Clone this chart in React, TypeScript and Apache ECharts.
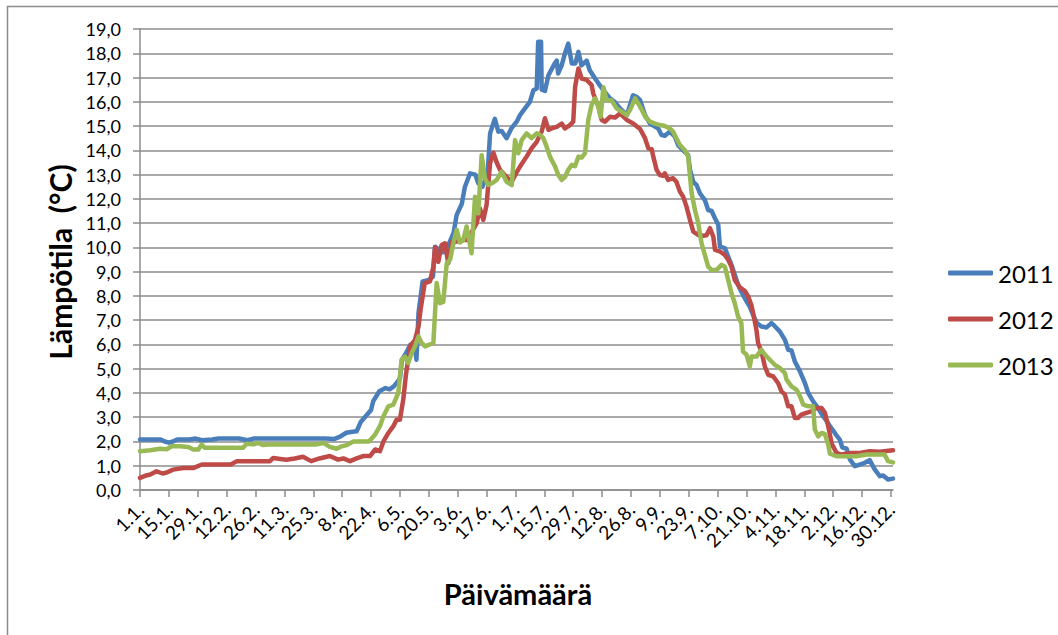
import React, { useEffect, useRef } from "react";
import * as echarts from "echarts";

// X-axis tick labels (one every 14 days, day index 0 = 1.1.)
const TICK_LABELS = [
  "1.1.", "15.1.", "29.1.", "12.2.", "26.2.", "11.3.", "25.3.", "8.4.", "22.4.",
  "6.5.", "20.5.", "3.6.", "17.6.", "1.7.", "15.7.", "29.7.", "12.8.", "26.8.",
  "9.9.", "23.9.", "7.10.", "21.10.", "4.11.", "18.11.", "2.12.", "16.12.", "30.12.",
];
const TICK_STEP_DAYS = 14;
const LAST_DAY = 365;

const Y_MIN = 0;
const Y_MAX = 19;
const Y_STEP = 1;

const SERIES_NAMES = ["2011", "2012", "2013"];
const SERIES_COLORS = ["#4A7EBB", "#BE4B48", "#98B954"];

// [day of year, temperature °C]
const DATA_2011: [number, number][] = [
  [0, 2.08], [5, 2.08], [10, 2.08], [12, 2.0], [14, 1.95], [16, 2.0], [18, 2.08], [24, 2.08],
  [27, 2.12], [30, 2.05], [35, 2.08], [38, 2.12], [42, 2.12], [48, 2.12], [52, 2.05], [55, 2.12],
  [62, 2.12], [70, 2.12], [80, 2.12], [90, 2.12], [94, 2.1], [97, 2.2], [100, 2.36], [103, 2.4],
  [105, 2.42], [107, 2.8], [110, 3.1], [112, 3.3], [113, 3.65], [116, 4.07], [119, 4.2], [121, 4.15],
  [123, 4.27], [125, 4.48], [126, 4.6], [127, 5.37], [129, 5.65], [131, 5.99], [133, 6.07], [134, 5.37],
  [135, 7.3], [137, 8.6], [140, 8.66], [142, 8.8], [143, 10.03], [145, 9.9], [147, 9.8], [150, 10.2],
  [152, 10.6], [153.5, 11.34], [156, 11.8], [157.5, 12.5], [160, 13.05], [162.5, 13.0], [164, 12.64],
  [166, 12.5], [168.5, 13.05], [169.7, 14.7], [172, 15.3], [173.7, 14.77], [175.3, 14.8], [177.7, 14.5],
  [180, 14.9], [182.6, 15.18], [184.2, 15.45], [186.6, 15.73], [189, 16.0], [190.7, 16.48], [192.3, 16.55],
  [193, 18.47], [194.4, 18.47], [194.7, 16.5], [196.3, 16.45], [198, 17.1], [201, 17.58], [202, 17.7],
  [202.7, 17.17], [204.4, 17.5], [206, 18.0], [207.6, 18.4], [209.3, 17.58], [211, 17.58], [212.5, 18.06],
  [214, 17.5], [216.5, 17.7], [218, 17.3], [220.6, 16.96], [222.2, 16.76], [224.6, 16.48], [227.8, 16.14],
  [230, 16.0], [232.7, 15.73], [236, 15.45], [239, 16.27], [240.8, 16.2], [242.4, 16.07], [244.8, 15.45],
  [247.2, 15.1], [251.2, 14.9], [252.8, 14.63], [254.4, 14.6], [256.8, 14.77], [259.3, 14.56], [260.9, 14.2],
  [263.3, 14.0], [265.7, 13.8], [266.6, 13.2], [268.2, 12.7], [269.8, 12.57], [271.4, 12.23], [273.8, 11.95],
  [275.4, 11.54], [277.1, 11.5], [278.7, 11.2], [280.3, 10.93], [281.1, 10.03], [283.5, 9.97], [285.1, 9.62],
  [286.7, 9.28], [288.3, 8.87], [289.9, 8.46], [291.3, 8.2], [293.5, 7.85], [295.6, 7.55], [297.5, 7.15],
  [299, 6.88], [301.2, 6.74], [303.7, 6.7], [306.1, 6.88], [307.7, 6.75], [310.1, 6.54], [312.6, 6.19],
  [314.2, 5.78], [315.8, 5.75], [317.4, 5.3], [319.9, 4.89], [322.3, 4.41], [323.9, 4.0], [326.3, 3.65],
  [328.7, 3.38], [331.1, 3.04], [332.8, 2.85], [334.4, 2.63], [336, 2.45], [337.6, 2.25], [339.2, 2.08],
  [340.4, 1.76], [342.5, 1.7], [344.1, 1.26], [346.5, 0.98], [348.9, 1.05], [351.3, 1.12], [353.7, 1.23],
  [356.2, 0.84], [358.6, 0.57], [360.2, 0.6], [362.6, 0.43], [365, 0.47],
];

const DATA_2012: [number, number][] = [
  [0, 0.5], [3, 0.6], [5, 0.64], [8, 0.77], [11, 0.68], [13, 0.72], [16, 0.84], [21, 0.91], [26, 0.91],
  [30, 1.05], [36, 1.05], [44, 1.05], [47, 1.19], [55, 1.19], [63, 1.19], [64.6, 1.32], [68, 1.28],
  [71, 1.25], [75, 1.3], [79, 1.37], [83, 1.19], [87, 1.3], [92, 1.4], [96, 1.25], [98.5, 1.3],
  [101.8, 1.19], [105, 1.3], [108.2, 1.4], [111.5, 1.4], [114, 1.67], [116.3, 1.6], [118, 2.0],
  [120.4, 2.35], [122.8, 2.63], [124.4, 2.9], [126, 2.9], [127.6, 3.72], [129, 4.82], [131, 5.92],
  [133.3, 6.19], [135, 6.74], [136, 7.43], [138, 8.53], [140.6, 8.6], [142.2, 9.2], [143, 10.0],
  [144.6, 9.4], [146.2, 10.1], [147.8, 10.17], [149.4, 9.35], [151, 10.2], [154, 10.25], [156.7, 10.3],
  [159, 10.3], [160, 10.5], [163.2, 11.0], [164.8, 11.6], [166.4, 11.13], [168, 11.75], [169.7, 13.47],
  [171.3, 13.9], [172.9, 13.5], [174.5, 13.2], [177.7, 12.9], [180.1, 12.7], [182.6, 13.1], [184.2, 13.33],
  [187.4, 13.74], [189.8, 14.08], [192.3, 14.35], [194.7, 14.77], [196.3, 15.32], [198, 14.84], [199.5, 14.9],
  [202, 14.97], [204.4, 15.1], [206, 14.9], [208.4, 15.04], [210, 15.18], [210.9, 16.6], [212.5, 17.37],
  [214.1, 16.96], [216.5, 16.9], [218.9, 16.69], [219.7, 16.34], [222.2, 15.8], [223.8, 15.25], [225.4, 15.18],
  [227.8, 15.38], [230.3, 15.35], [232.7, 15.52], [236, 15.25], [239.2, 15.1], [242.4, 14.88], [244.8, 14.5],
  [246.4, 14.08], [248, 14.05], [248.8, 13.74], [250.4, 13.2], [252, 12.98], [253.6, 12.95], [254.4, 13.05],
  [256, 12.78], [258.4, 12.85], [260, 12.7], [261.7, 12.3], [263.3, 12.09], [264.9, 11.68], [266.6, 11.13],
  [268.2, 10.65], [270.6, 10.51], [273, 10.48], [274.6, 10.5], [276.3, 10.79], [277.9, 10.44], [278.7, 9.9],
  [281.1, 9.83], [283.5, 9.69], [285.1, 9.49], [286.7, 9.21], [288.3, 8.66], [290.8, 8.35], [293.2, 8.2],
  [294.8, 7.98], [296.4, 7.6], [297.2, 7.3], [298.8, 6.6], [299.6, 6.06], [301.2, 5.71], [302.9, 5.09],
  [304.5, 4.75], [306.9, 4.68], [309.3, 4.41], [310.9, 4.07], [312.6, 3.93], [314.2, 3.45], [315.8, 3.45],
  [317.4, 2.97], [319, 2.97], [320.6, 3.11], [323, 3.18], [325.4, 3.24], [327.9, 3.38], [330.4, 3.38],
  [332, 3.18], [333.6, 2.63], [335.3, 1.9], [337.6, 1.53], [340, 1.46], [344.1, 1.53], [348.9, 1.53],
  [353.7, 1.6], [358.6, 1.58], [365, 1.64],
];

const DATA_2013: [number, number][] = [
  [0, 1.6], [5, 1.64], [9.7, 1.7], [12.9, 1.68], [15.4, 1.8], [19.4, 1.8], [23.4, 1.77], [25.8, 1.67],
  [28.3, 1.67], [29.9, 1.87], [31.5, 1.74], [40, 1.74], [50, 1.74], [51.7, 1.91], [55, 1.88], [57.4, 1.94],
  [59.8, 1.85], [63, 1.88], [70, 1.88], [80, 1.88], [85.6, 1.88], [88.9, 1.94], [92, 1.78], [95.3, 1.7],
  [97.8, 1.8], [100.2, 1.85], [103.4, 2.0], [111, 2.0], [113.9, 2.28], [116.3, 2.63], [118, 3.04],
  [120.4, 3.45], [122.8, 3.52], [125.2, 4.0], [126.8, 5.37], [128.4, 5.5], [130, 5.23], [131.7, 5.65],
  [133.3, 5.92], [135, 6.33], [136.5, 6.06], [138.2, 5.92], [142.2, 6.06], [143, 7.3], [143.8, 8.53],
  [145.4, 7.7], [147, 7.75], [148.7, 9.35], [150.3, 9.49], [151.9, 10.17], [153.5, 10.72], [155.1, 10.2],
  [156.7, 10.3], [158.3, 10.86], [160.7, 9.76], [162.4, 12.09], [164, 11.4], [165.6, 13.8], [167.2, 12.85],
  [168.8, 12.57], [170.5, 12.64], [172.9, 12.78], [175.3, 13.12], [177.7, 12.7], [180.2, 12.57],
  [181.8, 14.42], [183.4, 13.88], [185, 14.42], [187.4, 14.7], [189.8, 14.5], [192.3, 14.7], [194, 14.63],
  [195.5, 14.5], [197.1, 14.15], [198.7, 13.74], [201.2, 13.33], [202.8, 12.98], [204.4, 12.78], [206, 12.9],
  [207.6, 13.2], [209.3, 13.4], [210.9, 13.35], [212.5, 13.74], [214.1, 13.7], [215.7, 13.88], [217.3, 15.25],
  [218.9, 15.87], [220.6, 16.14], [222.2, 15.8], [223.3, 15.38], [224.6, 16.6], [226.2, 16.07], [228.6, 16.05],
  [231, 15.73], [233.5, 15.59], [235.9, 15.45], [237.5, 15.66], [240, 16.14], [242.4, 15.8], [244.8, 15.4],
  [247.2, 15.18], [249.6, 15.1], [252, 15.04], [254.4, 15.0], [256.8, 14.9], [258.4, 14.77], [260, 14.5],
  [261.7, 14.22], [264.1, 14.0], [265.7, 13.74], [266.6, 12.92], [267.4, 12.23], [269, 11.54], [270.6, 11.0],
  [272.2, 10.17], [273.8, 9.69], [275.4, 9.21], [277, 9.07], [279.5, 9.07], [281.9, 9.28], [283.5, 9.2],
  [285.1, 8.66], [286.7, 8.11], [288.3, 7.7], [289.9, 7.15], [291.5, 6.88], [292.3, 5.71], [294, 5.58],
  [295.6, 5.09], [296.4, 5.5], [298.8, 5.5], [301.2, 5.78], [302.9, 5.58], [305.3, 5.37], [307.7, 5.16],
  [310.1, 5.03], [312.6, 4.82], [313.4, 4.55], [315.8, 4.27], [318.3, 4.13], [319.9, 3.86], [321.5, 3.52],
  [323.9, 3.45], [326.3, 3.45], [327.1, 2.49], [328.7, 2.21], [330.4, 2.35], [332, 2.3], [333.6, 1.87],
  [334.4, 1.5], [337.6, 1.39], [342.5, 1.39], [347.3, 1.39], [352.1, 1.46], [356.9, 1.46], [360.9, 1.46],
  [362.6, 1.19], [365, 1.14],
];

const SERIES_DATA = [DATA_2011, DATA_2012, DATA_2013];

const Y_TITLE = "Lämpötila  (°C)";
const X_TITLE = "Päivämäärä";

const FONT = "Lato, 'Open Sans', sans-serif";
const GRID_COLOR = "#8c8c8c";

export default function App() {
  const ref = useRef<HTMLDivElement>(null);

  useEffect(() => {
    if (!ref.current) return;
    const chart = echarts.init(ref.current, undefined, { renderer: "svg" });
    const tickDays = TICK_LABELS.map((_, i) => i * TICK_STEP_DAYS);

    chart.setOption({
      animation: false,
      backgroundColor: "#ffffff",
      textStyle: { fontFamily: FONT },
      grid: { left: 140, right: 165, top: 29, bottom: 145, containLabel: false },
      xAxis: {
        type: "value",
        min: 0,
        max: LAST_DAY,
        axisLine: { show: true, lineStyle: { color: GRID_COLOR, width: 1.5 } },
        axisTick: {
          show: true,
          customValues: tickDays,
          length: 7,
          lineStyle: { color: GRID_COLOR, width: 1.5 },
        },
        axisLabel: {
          customValues: tickDays,
          rotate: 45,
          margin: 16,
          fontSize: 19,
          color: "#000",
          fontFamily: FONT,
          formatter: (v: number) => TICK_LABELS[Math.round(v / TICK_STEP_DAYS)] ?? "",
        },
        splitLine: { show: false },
      },
      yAxis: {
        type: "value",
        min: Y_MIN,
        max: Y_MAX,
        interval: Y_STEP,
        axisLine: { show: true, lineStyle: { color: GRID_COLOR, width: 1.5 } },
        axisTick: { show: true, length: 7, lineStyle: { color: GRID_COLOR, width: 1.5 } },
        axisLabel: {
          margin: 19,
          fontSize: 18,
          color: "#000",
          fontFamily: FONT,
          formatter: (v: number) => v.toFixed(1).replace(".", ","),
        },
        splitLine: { show: true, lineStyle: { color: GRID_COLOR, width: 1.5 } },
      },
      legend: {
        orient: "vertical",
        left: 943,
        top: 256,
        itemWidth: 45,
        itemHeight: 5,
        itemGap: 22,
        icon: "roundRect",
        textStyle: { fontSize: 24, color: "#000", fontFamily: FONT },
        data: SERIES_NAMES,
      },
      series: SERIES_NAMES.map((name, i) => ({
        name,
        type: "line",
        data: SERIES_DATA[i],
        symbol: "none",
        showSymbol: false,
        color: SERIES_COLORS[i],
        lineStyle: { color: SERIES_COLORS[i], width: 4.5, cap: "round", join: "round" },
        z: 2 + i,
      })),
      graphic: [
        {
          type: "rect",
          silent: true,
          z: -10,
          shape: { x: 7.5, y: 6.5, width: 1100, height: 700 },
          style: { fill: "none", stroke: "#8c8c8c", lineWidth: 1.5 },
        },
        {
          type: "text",
          x: 60,
          y: 262,
          rotation: Math.PI / 2,
          style: {
            text: Y_TITLE,
            fontSize: 30,
            fontWeight: "bold",
            fontFamily: FONT,
            fill: "#000",
            align: "center",
            verticalAlign: "middle",
          },
        },
        {
          type: "text",
          x: 518,
          y: 593,
          style: {
            text: X_TITLE,
            fontSize: 29,
            fontWeight: "bold",
            fontFamily: FONT,
            fill: "#000",
            align: "center",
            verticalAlign: "middle",
          },
        },
      ],
    });

    return () => chart.dispose();
  }, []);

  return (
    <div
      ref={ref}
      style={{ position: "fixed", left: 0, top: 0, width: 1058, height: 635, background: "#fff" }}
    />
  );
}
